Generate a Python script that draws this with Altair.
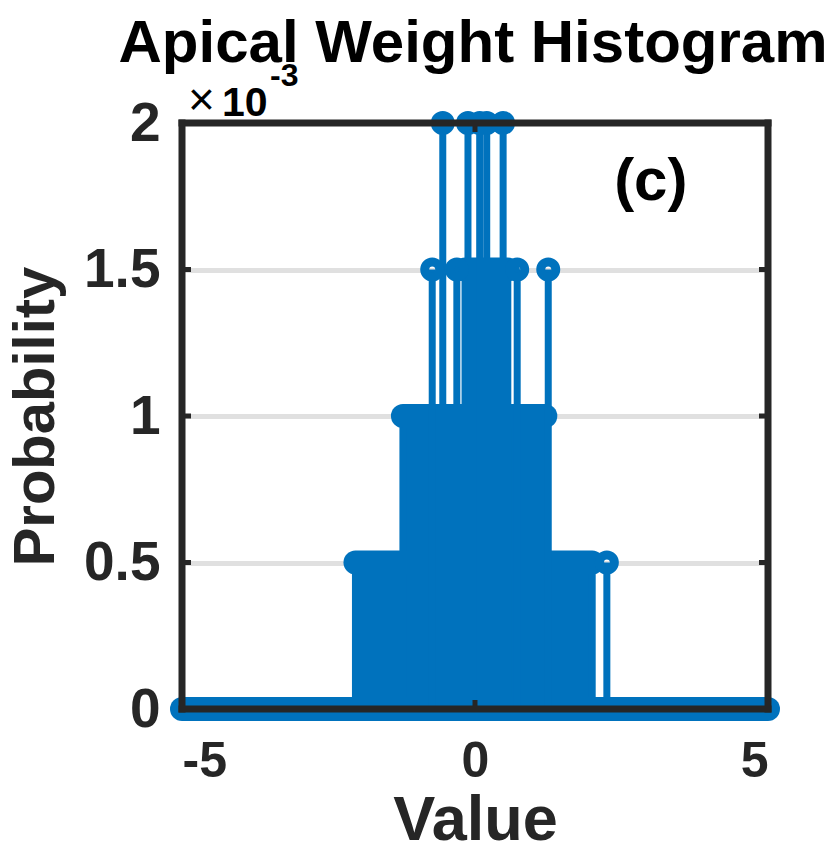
import altair as alt
import pandas as pd

BLUE = "#0072BD"
INK = "#262626"
GRID = "#e0e0e0"
FONT = "Liberation Sans"

# bins that stand above their neighbours: centre value and probability
stem_x = [-0.55, -0.12, 0.08, 0.20, 0.48, -0.73, -0.31, 0.72, 1.25, 2.25]
stem_p = [2.0e-3, 2.0e-3, 2.0e-3, 2.0e-3, 2.0e-3, 1.5e-3, 1.5e-3, 1.5e-3, 1.5e-3, 0.5e-3]

# runs of neighbouring bins that share one probability level
run_start = [-5.0, -2.04, -1.23, -0.17]
run_end = [5.0, 2.00, 1.20, 0.56]
run_p = [0.0, 0.5e-3, 1.0e-3, 1.5e-3]

x_ticks = [-5, 0, 5]
y_ticks = [0, 0.5e-3, 1.0e-3, 1.5e-3, 2.0e-3]
x_domain = [-5, 5]
y_domain = [0, 2.0e-3]
baseline = y_domain[0]

stems = pd.DataFrame({"x": stem_x, "p": stem_p, "base": [baseline] * len(stem_x)})
runs = pd.DataFrame({"start": run_start, "end": run_end, "p": run_p,
                     "base": [baseline] * len(run_p)})
frame_h = pd.DataFrame({"x0": [x_domain[0]] * 2, "x1": [x_domain[1]] * 2, "y": y_domain})
frame_v = pd.DataFrame({"x": x_domain, "y0": [y_domain[0]] * 2, "y1": [y_domain[1]] * 2})

xs = alt.Scale(domain=x_domain, nice=False, zero=False)
ys = alt.Scale(domain=y_domain, nice=False, zero=False)

x_axis = alt.Axis(
    title="Value", values=x_ticks,
    labelExpr="datum.value < 0 ? '-' + abs(datum.value) : '' + datum.value",
    domain=False, ticks=False, grid=False,
    labelFont=FONT, labelFontSize=50, labelFontWeight="bold", labelColor=INK,
    labelPadding=27, titleFont=FONT, titleFontSize=63, titleFontWeight="bold",
    titleColor=INK, titlePadding=3,
)
y_axis = alt.Axis(
    title="Probability", values=y_ticks, labelExpr="format(datum.value * 1000, '')",
    domain=False, ticks=False, grid=True, gridColor=GRID, gridWidth=5,
    labelFont=FONT, labelFontSize=55, labelFontWeight="bold", labelColor=INK,
    labelPadding=22, titleFont=FONT, titleFontSize=58, titleFontWeight="bold",
    titleColor=INK, titlePadding=18,
)


def X(field):
    return alt.X(field, type="quantitative", scale=xs, axis=x_axis)


def Y(field):
    return alt.Y(field, type="quantitative", scale=ys, axis=y_axis)


# solid blocks formed by the packed stems of each run
blocks = alt.Chart(runs).mark_rect(color=BLUE, stroke=BLUE, strokeWidth=7).encode(
    x=X("start"), x2="end", y=Y("base"), y2="p"
)
# the overlapping circle markers along the top of every run
rows = alt.Chart(runs).mark_rule(color=BLUE, strokeWidth=24, strokeCap="round").encode(
    x=X("start"), x2="end", y=Y("p")
)
stem_lines = alt.Chart(stems).mark_rule(color=BLUE, strokeWidth=7).encode(
    x=X("x"), y=Y("base"), y2="p"
)
stem_heads = alt.Chart(stems).mark_point(
    shape="circle", filled=False, size=225, strokeWidth=9, color=BLUE, opacity=1
).encode(x=X("x"), y=Y("p"))

# box around the plot area
box_h = alt.Chart(frame_h).mark_rule(color=INK, strokeWidth=7, strokeCap="square").encode(
    x=X("x0"), x2="x1", y=Y("y")
)
box_v = alt.Chart(frame_v).mark_rule(color=INK, strokeWidth=7, strokeCap="square").encode(
    x=X("x"), y=Y("y0"), y2="y1"
)

# inward tick marks on all four sides
tick_rows = []
for edge, off in ((y_domain[0], -9), (y_domain[1], 9)):
    df = pd.DataFrame({"x": x_ticks, "y": [edge] * len(x_ticks)})
    tick_rows.append(
        alt.Chart(df).mark_rule(color=INK, strokeWidth=5, y2Offset=off).encode(
            x=X("x"), y=Y("y"), y2="y"
        )
    )
for edge, off in ((x_domain[0], 9), (x_domain[1], -9)):
    df = pd.DataFrame({"x": [edge] * len(y_ticks), "y": y_ticks})
    tick_rows.append(
        alt.Chart(df).mark_rule(color=INK, strokeWidth=5, x2Offset=off).encode(
            x=X("x"), x2="x", y=Y("y")
        )
    )


def label(text, x, y, size, weight="bold", align="center", base="alphabetic", dx=0, dy=0):
    df = pd.DataFrame({"t": [text], "x": [x], "y": [y]})
    return alt.Chart(df).mark_text(
        font=FONT, fontSize=size, fontWeight=weight, color="black",
        align=align, baseline=base, dx=dx, dy=dy,
    ).encode(x=X("x"), y=Y("y"), text="t:N")


title = label("Apical Weight Histogram", 0, y_domain[1], 60, dx=-2, dy=-61)
times = label("×", x_domain[0], y_domain[1], 46, weight="normal", align="left", dx=6, dy=-8)
ten = label("10", x_domain[0], y_domain[1], 41, align="left", dx=40, dy=-7)
exponent = label("-3", x_domain[0], y_domain[1], 32, align="left", dx=88, dy=-37)
panel = label("(c)", 3.0, 1.8e-3, 60, base="middle")

chart = alt.layer(
    blocks, rows, stem_lines, stem_heads, box_h, box_v, *tick_rows,
    title, times, ten, exponent, panel,
).properties(
    width=586, height=586,
    autosize=alt.AutoSizeParams(type="none"),
    padding={"left": 182, "top": 123, "right": 68, "bottom": 150},
).configure_view(stroke=None).configure(background="white")

chart.save("out.html", embed_options={"renderer": "svg", "actions": False})
